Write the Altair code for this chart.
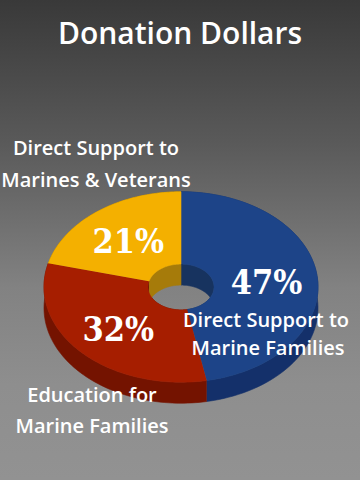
import altair as alt
import pandas as pd
import numpy as np

# ---------------- data ----------------
categories = [
    "Direct Support to Marine Families",
    "Education for Marine Families",
    "Direct Support to Marines & Veterans",
]
values = [47, 32, 21]
label_lines = [
    ["Direct Support to", "Marine Families"],
    ["Education for", "Marine Families"],
    ["Direct Support to", "Marines & Veterans"],
]
title_text = "Donation Dollars"

# ---------------- layout / style ----------------
W, H = 360, 480
CX, CY = 181, 287
R_OUT, R_IN, RATIO, DEPTH = 137, 33, 0.695, 21
R_LABEL = 86
N = 72
top_colors = ["#1d4488", "#a61e00", "#f4b000"]
side_colors = ["#14306a", "#741300", "#a87800"]
wall_colors = ["#17335f", "#6c1a06", "#a67b0a"]
label_pos = [[(266, 327), (268, 355)], [(92, 402), (92, 433)], [(96, 155), (96, 187)]]
title_pos = (180, 44)

starts = np.concatenate([[0], np.cumsum(values)[:-1]])

rows = []
for part in ["side", "wall", "top"]:
    for c, v, s in zip(categories, values, starts):
        for k in range(2 * N + 2):
            rows.append(dict(part=part, slice=c, value=v, start=float(s), k=k))
poly = pd.DataFrame(rows)

keys, colors = [], []
for part, pal in [("side", side_colors), ("wall", wall_colors), ("top", top_colors)]:
    for c, col in zip(categories, pal):
        keys.append(f"{part}|{c}")
        colors.append(col)

xs = alt.Scale(domain=[0, W], nice=False, zero=False)
ys = alt.Scale(domain=[0, H], reverse=True, nice=False, zero=False)
fill_scale = alt.Scale(domain=keys, range=colors)

base_poly = alt.Chart(poly).transform_calculate(
    t=f"datum.k <= {N} ? datum.k / {N} : ({2*N+1} - datum.k) / {N}",
).transform_calculate(
    theta="2 * PI * (datum.start + datum.t * datum.value) / 100",
    r=f"datum.part == 'top' ? (datum.k <= {N} ? {R_OUT} : {R_IN}) : (datum.part == 'side' ? {R_OUT} : {R_IN})",
    dz=f"datum.part != 'top' && datum.k > {N} ? {DEPTH} : 0",
    key="datum.part + '|' + datum.slice",
).transform_calculate(
    px=f"{CX} + datum.r * sin(datum.theta)",
    py=f"{CY} - datum.r * {RATIO} * cos(datum.theta) + datum.dz",
)

def poly_layer(part):
    return base_poly.transform_filter(f"datum.part == '{part}'").mark_line(
        strokeWidth=0.6, interpolate="linear"
    ).encode(
        x=alt.X("px:Q", scale=xs, axis=None),
        y=alt.Y("py:Q", scale=ys, axis=None),
        order=alt.Order("k:Q"),
        detail="key:N",
        fill=alt.Fill("key:N", scale=fill_scale, legend=None),
        stroke=alt.Stroke("key:N", scale=fill_scale, legend=None),
    )

bg = alt.Chart(pd.DataFrame({"a": [0]})).mark_rect(
    fill=alt.LinearGradient(
        gradient="linear",
        stops=[
            alt.GradientStop(color="#393939", offset=0),
            alt.GradientStop(color="#5a5a5a", offset=0.3),
            alt.GradientStop(color="#828282", offset=0.6),
            alt.GradientStop(color="#8e8e8e", offset=0.8),
            alt.GradientStop(color="#929292", offset=1),
        ],
        x1=0, x2=0, y1=0, y2=1,
    )
).encode(x=alt.value(0), x2=alt.value(W), y=alt.value(0), y2=alt.value(H))

pct = pd.DataFrame({"slice": categories, "value": values, "start": starts.astype(float)})
pct_layer = alt.Chart(pct).transform_calculate(
    theta="2 * PI * (datum.start + datum.value / 2) / 100",
    label="datum.value + '%'",
).transform_calculate(
    px=f"{CX} + {R_LABEL} * sin(datum.theta)",
    py=f"{CY} - {R_LABEL} * {RATIO} * cos(datum.theta)",
).mark_text(
    font="DejaVu Serif Condensed, DejaVu Serif",
    fontWeight="bold",
    fontSize=34,
    color="white",
    baseline="alphabetic",
    align="center",
    dy=13,
).encode(
    x=alt.X("px:Q", scale=xs, axis=None),
    y=alt.Y("py:Q", scale=ys, axis=None),
    text="label:N",
)

lab_rows = []
for lines, poss in zip(label_lines, label_pos):
    for txt, (lx, ly) in zip(lines, poss):
        lab_rows.append(dict(text=txt, lx=lx, ly=ly))
labels = pd.DataFrame(lab_rows)
label_layer = alt.Chart(labels).mark_text(
    font="Open Sans", fontWeight=600, fontSize=20, color="white",
    baseline="alphabetic", align="center",
).encode(
    x=alt.X("lx:Q", scale=xs, axis=None),
    y=alt.Y("ly:Q", scale=ys, axis=None),
    text="text:N",
)

title_layer = alt.Chart(pd.DataFrame({"text": [title_text], "lx": [title_pos[0]], "ly": [title_pos[1]]})).mark_text(
    font="Open Sans", fontWeight=600, fontSize=30, color="white",
    baseline="alphabetic", align="center",
).encode(
    x=alt.X("lx:Q", scale=xs, axis=None),
    y=alt.Y("ly:Q", scale=ys, axis=None),
    text="text:N",
)

chart = alt.layer(
    bg, poly_layer("side"), poly_layer("wall"), poly_layer("top"),
    pct_layer, label_layer, title_layer,
).properties(
    width=W, height=H, padding=0, autosize="none",
).configure_view(stroke=None)

chart.save("out.html", embed_options={"renderer": "svg", "actions": False})
